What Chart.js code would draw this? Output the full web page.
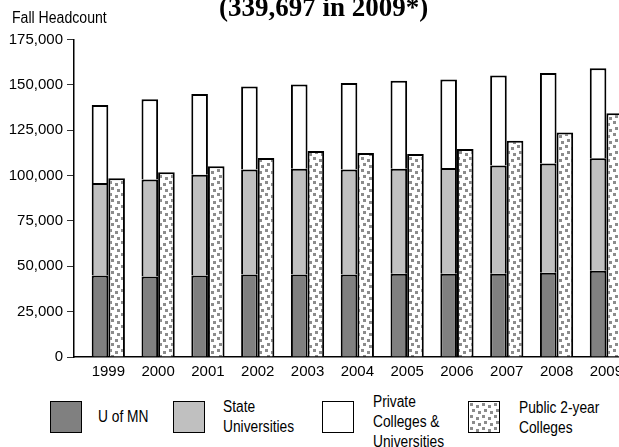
<!DOCTYPE html>
<html>
<head>
<meta charset="utf-8">
<script src="https://cdn.jsdelivr.net/npm/chart.js@4.4.0/dist/chart.umd.min.js"></script>
<style>
  html, body { margin: 0; padding: 0; background: #fff; }
  body { position: relative; width: 619px; height: 447px; overflow: hidden;
         font-family: 'Liberation Sans', Arial, sans-serif; color: #000; }
  #chart { position: absolute; left: 0; top: 0; }
  .title { position: absolute; left: 219px; top: -6px; font: bold 27px/27px 'Liberation Serif', 'Times New Roman', serif; white-space: nowrap; }
  .ylab { position: absolute; left: 12px; top: 8px; font-size: 16px; line-height: 20px; white-space: nowrap;
          transform: scaleX(0.88); transform-origin: 0 0; }
  .box { position: absolute; top: 401px; width: 32px; height: 32px; box-sizing: border-box; border: 1.5px solid #000; }
  .lab { position: absolute; font-size: 16px; line-height: 20px; white-space: nowrap;
         transform: scaleX(0.86); transform-origin: 0 0; }
</style>
</head>
<body>
<canvas id="chart" width="700" height="390"></canvas>
<div class="title">(339,697 in 2009*)</div>
<div class="ylab">Fall Headcount</div>
<div id="legend"></div>
<script>
// Fall headcount by sector
const years = [1999, 2000, 2001, 2002, 2003, 2004, 2005, 2006, 2007, 2008, 2009];
const uOfMN = [44900, 44400, 44900, 45500, 45500, 45500, 45900, 45900, 45900, 46400, 47500];
const stateUniv = [51000, 53400, 55600, 57800, 58300, 57900, 57900, 58300, 59600, 60300, 62000];
const privateColleges = [43000, 44200, 44400, 45800, 46400, 47600, 48400, 48800, 49700, 49800, 49700];
const public2Year = [98500, 101800, 105100, 109700, 113500, 112400, 111900, 114600, 119200, 123800, 134300];
const yTicks = [0, 25000, 50000, 75000, 100000, 125000, 150000, 175000];

const legendItems = [
    { label: 'U of MN', lines: ['U of MN'], box: 50, text: 98, top: 407 },
    { label: 'State Universities', lines: ['State', 'Universities'], box: 173, text: 223, top: 397 },
    { label: 'Private Colleges & Universities', lines: ['Private', 'Colleges &', 'Universities'], box: 322, text: 373, top: 392 },
    { label: 'Public 2-year Colleges', lines: ['Public 2-year', 'Colleges'], box: 468, text: 519, top: 398 }
];

// speckled fill used for the 2-year colleges
function makeTile() {
    const c = document.createElement('canvas');
    c.width = 12; c.height = 12;
    const g = c.getContext('2d');
    g.fillStyle = '#fff';
    g.fillRect(0, 0, 12, 12);
    g.fillStyle = '#8c8c8c';
    [[1, 1], [7, 3], [3, 7], [9, 9]].forEach(p => g.fillRect(p[0], p[1], 3, 3));
    return c;
}
const tile = makeTile();
const ctx = document.getElementById('chart').getContext('2d');
const speckle = ctx.createPattern(tile, 'repeat');

const fillColors = ['#808080', '#c0c0c0', '#ffffff'];
const font = { family: "'Liberation Sans', Arial, sans-serif", size: 15 };

function pts(arr) {
    return years.map((yr, i) => ({ x: yr, y: arr[i] }));
}

function ds(label, arr, fill, stack) {
    return {
        label: label,
        data: pts(arr),
        stack: stack,
        backgroundColor: fill,
        borderColor: '#000',
        borderWidth: 2,
        categoryPercentage: 0.667,
        barPercentage: 1.0
    };
}

new Chart(ctx, {
    type: 'bar',
    data: {
        datasets: [
            ds('U of MN', uOfMN, fillColors[0], 'four-year'),
            ds('State Universities', stateUniv, fillColors[1], 'four-year'),
            ds('Private Colleges & Universities', privateColleges, fillColors[2], 'four-year'),
            ds('Public 2-year Colleges', public2Year, speckle, 'two-year')
        ]
    },
    options: {
        responsive: false,
        animation: false,
        devicePixelRatio: 1,
        layout: { padding: { top: 39.5, left: 0, right: 0, bottom: 0 } },
        plugins: {
            legend: { display: false },
            tooltip: { enabled: false },
            title: { display: false }
        },
        scales: {
            x: {
                type: 'linear',
                stacked: true,
                offset: false,
                min: 1998.311,
                max: 2010.88,
                grid: { display: true, offset: false, drawOnChartArea: false, drawTicks: false },
                border: { color: '#000', width: 1.5 },
                ticks: {
                    stepSize: 1,
                    includeBounds: false,
                    autoSkip: false,
                    maxRotation: 0,
                    color: '#000',
                    font: font,
                    padding: 6,
                    callback: v => String(v)
                },
                afterFit(s) { s.height = 33; }
            },
            y: {
                stacked: true,
                min: yTicks[0],
                max: yTicks[yTicks.length - 1],
                grid: { drawOnChartArea: false, drawTicks: true, tickLength: 7, color: '#333', lineWidth: 1 },
                border: { color: '#000', width: 1.5 },
                ticks: {
                    stepSize: yTicks[1] - yTicks[0],
                    color: '#000',
                    font: font,
                    padding: 4,
                    callback: v => v.toLocaleString('en-US')
                },
                afterFit(s) { s.width = 74; }
            }
        }
    }
});

// legend below the plot
const legend = document.getElementById('legend');
legendItems.forEach((item, i) => {
    const b = document.createElement('div');
    b.className = 'box';
    b.style.left = item.box + 'px';
    if (i < 3) b.style.background = fillColors[i];
    else b.style.background = 'url(' + tile.toDataURL() + ') repeat';
    legend.appendChild(b);
    const t = document.createElement('div');
    t.className = 'lab';
    t.style.left = item.text + 'px';
    t.style.top = item.top + 'px';
    t.innerHTML = item.lines.map(s => s.replace('&', '&amp;')).join('<br>');
    legend.appendChild(t);
});
</script>
</body>
</html>
